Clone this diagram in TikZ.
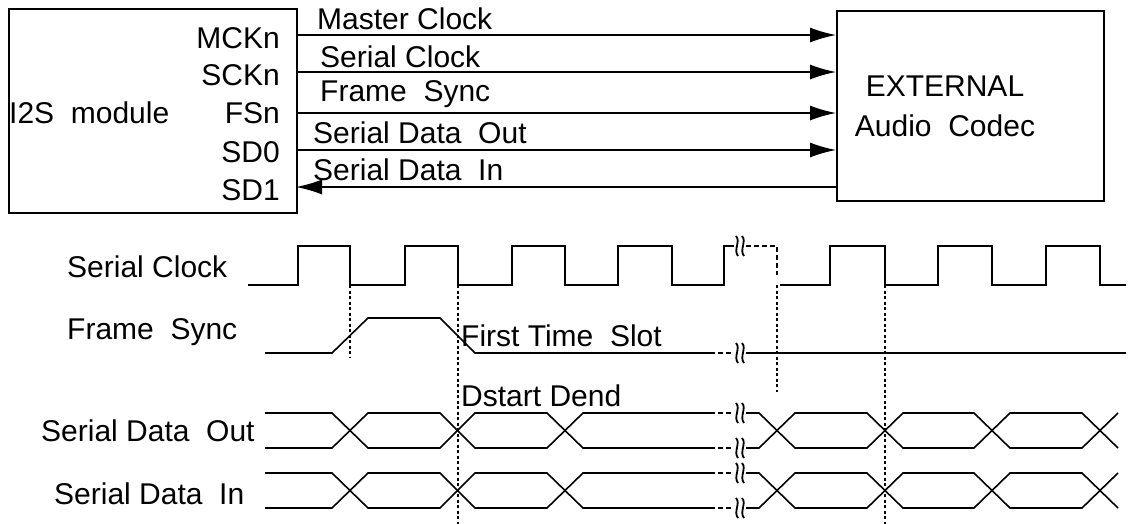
\documentclass[tikz,border=0pt]{standalone}
\usepackage{fontspec}
\setmainfont{Liberation Sans}
\usetikzlibrary{arrows.meta}
\begin{document}
\begin{tikzpicture}[x=1pt,y=-1pt,
  txt/.style={font=\fontsize{30}{32}\selectfont,inner sep=0pt},
  wave/.style={line width=1.6pt},
  clk/.style={line width=2.4pt},
  dot/.style={line width=1.5pt,dash pattern=on 3pt off 2.5pt},
  dsh/.style={line width=1.5pt,dash pattern=on 5pt off 3pt},
  arr/.style={line width=1.5pt,-{Latex[length=26pt,width=15pt]}},
  brk/.pic={\fill[white] (-6,-9) rectangle (6,9);
    \draw[line width=1.8pt] (-4,-10) .. controls (1,-5) and (-7,4) .. (-2,10);
    \draw[line width=1.8pt] (2,-10) .. controls (7,-5) and (-1,4) .. (4,10);}]
\useasboundingbox (0,0) rectangle (1128,523);
% boxes
\node[draw,line width=1.5pt,minimum width=288pt,minimum height=204pt,anchor=north west] (i2s) at (8,8) {};
\node[draw,line width=1.5pt,minimum width=267pt,minimum height=190pt,anchor=north west] (ext) at (836,10) {};
\node[txt,anchor=west] (m) at (9,113) {I2S\ \ module};
\node[txt] (e1) at (945,86) {EXTERNAL};
\node[txt] (e2) at (945,126) {Audio\ \ Codec};
\foreach \n/\t/\y in {p1/MCKn/38,p2/SCKn/75,p3/FSn/113,p4/SD0/152,p5/SD1/190}
  \node[txt,anchor=east] (\n) at (280,\y) {\t};
% arrows
\foreach \n/\y in {a1/35,a2/72,a3/113,a4/150,a5/187}{
  \coordinate (\n L) at (296,\y); \coordinate (\n R) at (836,\y);}
\draw[arr] (a1L) -- (a1R);
\draw[arr] (a2L) -- (a2R);
\draw[arr] (a3L) -- (a3R);
\draw[arr] (a4L) -- (a4R);
\draw[arr] (a5R) -- (a5L);
\node[txt,anchor=south west] (l1) at (317,30) {Master Clock};
\node[txt,anchor=south west] (l2) at (320,68) {Serial Clock};
\node[txt,anchor=south west] (l3) at (320,108) {Frame\ \ Sync};
\node[txt,anchor=south west] (l4) at (313,144) {Serial Data\ \ Out};
\node[txt,anchor=south west] (l5) at (313,181) {Serial Data\ \ In};
% waveform labels
\node[txt,anchor=west] (w1) at (67,267) {Serial Clock};
\node[txt,anchor=west] (w2) at (67,332) {Frame\ \ Sync};
\node[txt,anchor=west] (w3) at (41,431) {Serial Data\ \ Out};
\node[txt,anchor=west] (w4) at (54,494) {Serial Data\ \ In};
\node[txt,anchor=west] (f1) at (461,336) {First Time\ \ Slot};
\node[txt,anchor=west] (f2) at (461,396) {Dstart Dend};
% dotted lines
\draw[dot] (350,285) -- (350,358);
\draw[dot] (458,285) -- (458,525);
\draw[dot] (777,285) -- (777,392);
\draw[dot] (885,285) -- (885,525);
% serial clock
\draw[clk] (248,285) -- (298,285) -- (298,246) -- (350,246) -- (350,285)
  -- (405,285) -- (405,246) -- (458,246) -- (458,285)
  -- (512,285) -- (512,246) -- (565,246) -- (565,285)
  -- (618,285) -- (618,246) -- (672,246) -- (672,285)
  -- (724,285) -- (724,246) -- (730,246);
\draw[dsh] (730,246) -- (777,246) -- (777,275);
\draw[clk] (780,285) -- (830,285) -- (830,246) -- (885,246) -- (885,285)
  -- (938,285) -- (938,246) -- (992,246) -- (992,285)
  -- (1046,285) -- (1046,246) -- (1100,246) -- (1100,285) -- (1126,285);
\pic at (740,246) {brk};
% frame sync
\draw[wave] (265,353) -- (332,353) -- (368,318) -- (440,318) -- (475,353) -- (710,353);
\draw[dsh] (710,353) -- (740,353);
\draw[wave] (740,353) -- (1126,353);
\pic at (740,353) {brk};
% data lines
\foreach \t/\b in {413/448,473/508}{
  \draw[wave] (265,\t) -- (332,\t) -- (368,\b) -- (440,\b) -- (475,\t) -- (547,\t) -- (583,\b) -- (710,\b);
  \draw[wave] (265,\b) -- (332,\b) -- (368,\t) -- (440,\t) -- (475,\b) -- (547,\b) -- (583,\t) -- (710,\t);
  \draw[dsh] (710,\t) -- (740,\t); \draw[dsh] (710,\b) -- (740,\b);
  \draw[wave] (740,\t) -- (759,\t) -- (795,\b) -- (867,\b) -- (903,\t) -- (974,\t) -- (1010,\b) -- (1082,\b) -- (1118,\t);
  \draw[wave] (740,\b) -- (759,\b) -- (795,\t) -- (867,\t) -- (903,\b) -- (974,\b) -- (1010,\t) -- (1082,\t) -- (1118,\b);
  \pic at (740,\t) {brk}; \pic at (740,\b) {brk};}
\end{tikzpicture}
\end{document}
